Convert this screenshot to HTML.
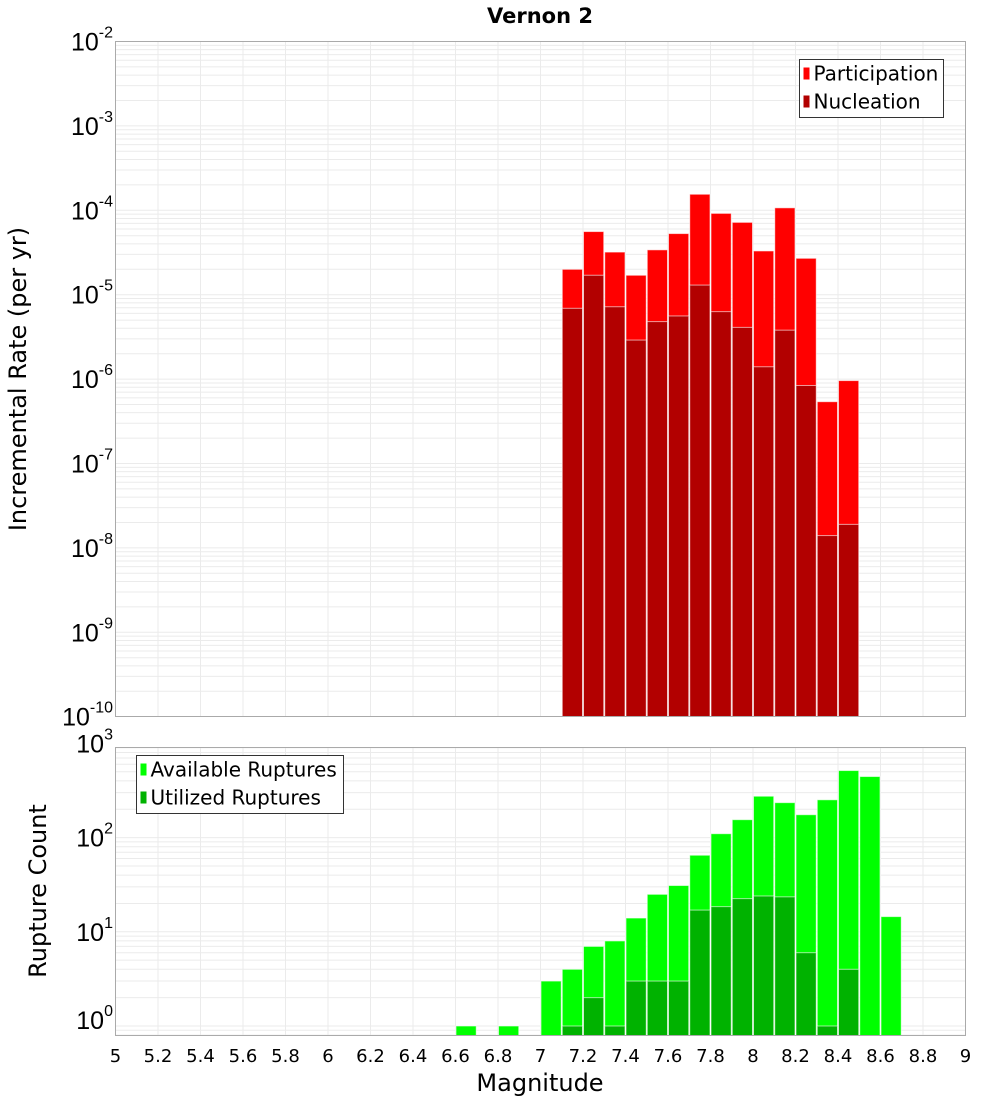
<!DOCTYPE html>
<html><head><meta charset="utf-8"><style>
body{margin:0;background:#fff;}
svg{display:block;font-family:"Liberation Sans","DejaVu Sans",sans-serif;}
</style></head><body>
<svg id="chart" width="1000" height="1100" viewBox="0 0 1000 1100" xmlns="http://www.w3.org/2000/svg">
<text x="540" y="23" text-anchor="middle" font-size="21" font-weight="bold" font-family="DejaVu Sans, sans-serif">Vernon 2</text>
<g id="top"></g>
<g id="bot"></g>
<text transform="translate(26,379) rotate(-90)" text-anchor="middle" font-size="24" font-family="DejaVu Sans, sans-serif">Incremental Rate (per yr)</text>
<text transform="translate(46,891) rotate(-90)" text-anchor="middle" font-size="24" font-family="DejaVu Sans, sans-serif">Rupture Count</text>
<text x="540" y="1091" text-anchor="middle" font-size="24" font-family="DejaVu Sans, sans-serif">Magnitude</text>
</svg>
<script>
const topMags = [7.1,7.2,7.3,7.4,7.5,7.6,7.7,7.8,7.9,8.0,8.1,8.2,8.3,8.4];
const participation = [2.0e-5,5.6e-5,3.2e-5,1.7e-5,3.4e-5,5.3e-5,1.55e-4,9.2e-5,7.2e-5,3.3e-5,1.07e-4,2.7e-5,5.4e-7,9.6e-7];
const nucleation = [6.9e-6,1.7e-5,7.2e-6,2.9e-6,4.8e-6,5.6e-6,1.3e-5,6.3e-6,4.1e-6,1.4e-6,3.8e-6,8.4e-7,1.4e-8,1.9e-8];
const availMags = [6.6,6.8,7.0,7.1,7.2,7.3,7.4,7.5,7.6,7.7,7.8,7.9,8.0,8.1,8.2,8.3,8.4,8.5,8.6];
const available = [1,1,3,4,7,8,14,25,31,65,110,155,275,235,175,252,515,445,14.5];
const utilMags = [7.1,7.2,7.3,7.4,7.5,7.6,7.7,7.8,7.9,8.0,8.1,8.2,8.3,8.4];
const utilized = [1,2,1,3,3,3,17,18.5,22.5,24,23.5,6,1,4];
const xTicks = ["5","5.2","5.4","5.6","5.8","6","6.2","6.4","6.6","6.8","7","7.2","7.4","7.6","7.8","8","8.2","8.4","8.6","8.8","9"];
const topExps = [-2,-3,-4,-5,-6,-7,-8,-9,-10];
const botExps = [3,2,1,0];

const NS="http://www.w3.org/2000/svg";
const L=115.5,R=965.5;
const x=m=>L+(m-5)*(R-L)/4;
const yTop=v=>41.5+(-2-Math.log10(v))*84.4;
const yBot=v=>1026-Math.log10(v)*94.2;
function mk(p,tag,at){const e=document.createElementNS(NS,tag);for(const k in at)e.setAttribute(k,at[k]);p.appendChild(e);return e;}

function frame(g,t,b,yf,lo,hi){
  mk(g,'rect',{x:L,y:t,width:R-L,height:b-t,fill:'#fff'});
  for(let d=lo;d<=hi;d++)for(let k=1;k<10;k++){const y=yf(k*Math.pow(10,d));if(y<t||y>b)continue;
    const ln=mk(g,'line',{x1:L,x2:R,y1:y,y2:y,stroke:'#ebebeb','stroke-width':1});
    
    }
  xTicks.forEach(s=>{const xx=x(+s);const ln=mk(g,'line',{x1:xx,x2:xx,y1:t,y2:b,stroke:'#ebebeb','stroke-width':1});
    
    });
}
function border(g,t,b){const r=mk(g,'rect',{x:L,y:t,width:R-L,height:b-t,fill:'none',stroke:'#aaa','stroke-width':1});
  
  }
function bars(g,mags,vals,yf,base,col,name){
  mags.forEach((m,i)=>{const x0=x(m),x1=x(m+0.1),y=yf(vals[i]);
    const r=mk(g,'rect',{x:x0+0.5,y:y,width:x1-x0-1,height:base-y,fill:col,stroke:'rgba(255,255,255,0.6)','stroke-width':1});
    
    });
}
function ylabel(g,exp,y){const t=mk(g,'text',{x:113,y:y+9,'text-anchor':'end','font-size':25});
  
  
  t.innerHTML='10<tspan dy="-13" font-size="16">'+exp+'</tspan>';}
function legend(g,x0,y0,w,items){
  const r=mk(g,'rect',{x:x0,y:y0,width:w,height:58,fill:'#fff',stroke:'#333','stroke-width':1});
  
  
  items.forEach((it,i)=>{const yy=y0+14+i*28;
    const s=mk(g,'rect',{x:x0+4,y:yy-6,width:6,height:12,fill:it[1]});
    
    
    const t=mk(g,'text',{x:x0+14,y:yy+7,'font-size':20,'font-family':'DejaVu Sans, sans-serif'});
    
    
    t.textContent=it[0];});
}
const gt=document.getElementById('top');
frame(gt,41.5,716.5,yTop,-10,-3);
bars(gt,topMags,participation,yTop,716.5,'#ff0000','participation-bar');
bars(gt,topMags,nucleation,yTop,716.5,'#b20000','nucleation-bar');
border(gt,41.5,716.5);
topExps.forEach(e=>ylabel(gt,e,yTop(Math.pow(10,e))));
legend(gt,799.5,59.5,144,[['Participation','#ff0000'],['Nucleation','#b20000']]);

const gb=document.getElementById('bot');
frame(gb,747.5,1035.5,yBot,-1,2);
bars(gb,availMags,available,yBot,1035.5,'#00ff00','available-bar');
bars(gb,utilMags,utilized,yBot,1035.5,'#00b200','utilized-bar');
border(gb,747.5,1035.5);
botExps.forEach(e=>ylabel(gb,e,e===0?1020:yBot(Math.pow(10,e))));
legend(gb,136.5,755.5,207,[['Available Ruptures','#00ff00'],['Utilized Ruptures','#00b200']]);
xTicks.forEach(s=>{const t=mk(gb,'text',{x:x(+s),y:1062,'text-anchor':'middle','font-size':18,'font-family':'DejaVu Sans, sans-serif'});
  
  
  t.textContent=s;});
</script>
</body></html>
